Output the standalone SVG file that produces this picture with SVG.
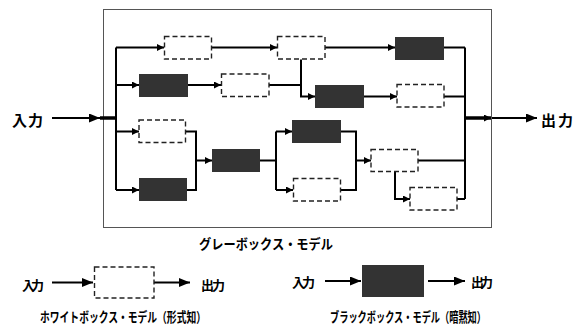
<svg xmlns="http://www.w3.org/2000/svg" width="581" height="326" viewBox="0 0 581 326">
<style>
text{font-family:"Noto Sans CJK JP","Noto Sans",sans-serif;font-weight:bold;fill:#000}
.w{fill:#fff;stroke:#222;stroke-width:1.4;stroke-dasharray:5,3}
.b{fill:#333;stroke:none}
.c path{fill:none;stroke:#000;stroke-width:2}
.c .t{stroke-width:3.5}
</style>
<defs>
<marker id="s" markerUnits="userSpaceOnUse" markerWidth="7" markerHeight="7" refX="7" refY="3.5" orient="auto"><path d="M0,0 L7,3.5 L0,7 z" fill="#000"/></marker>
<marker id="L" markerUnits="userSpaceOnUse" markerWidth="11" markerHeight="9" refX="11" refY="4.5" orient="auto"><path d="M0,0 L11,4.5 L0,9 z" fill="#000"/></marker>
</defs>
<rect id="gray" x="103.5" y="9.5" width="388" height="218" fill="#fff" stroke="#555" stroke-width="1"/>
<g class="c" id="connectors">
<path d="M52,118 H100" marker-end="url(#L)"/>
<path class="t" d="M100,118 H116"/>
<path d="M116,47.5 V190"/>
<path d="M116,47.5 H164" marker-end="url(#s)"/>
<path d="M211,47.5 H277" marker-end="url(#s)"/>
<path d="M325,47.5 H395" marker-end="url(#s)"/>
<path d="M444,47.5 H465"/>
<path d="M116,85 H139" marker-end="url(#s)"/>
<path d="M188,85 H221" marker-end="url(#s)"/>
<path d="M269,85 H301"/>
<path d="M301,59.5 V96.5 H315" marker-end="url(#s)"/>
<path d="M364,96.5 H397" marker-end="url(#s)"/>
<path d="M444,96.5 H465"/>
<path d="M116,131.5 H139" marker-end="url(#s)"/>
<path d="M116,190 H139" marker-end="url(#s)"/>
<path d="M185,131.5 H196 V190 H187"/>
<path d="M196,160.5 H212" marker-end="url(#s)"/>
<path d="M260,160.5 H276"/>
<path d="M276,131.5 V190"/>
<path d="M276,131.5 H292" marker-end="url(#s)"/>
<path d="M276,190 H293" marker-end="url(#s)"/>
<path d="M341,131.5 H356 V190 H341"/>
<path d="M356,160.5 H371" marker-end="url(#s)"/>
<path d="M418,160.5 H465"/>
<path d="M395,171 V199 H410" marker-end="url(#s)"/>
<path d="M457,199 H465"/>
<path d="M465,47.5 V199"/>
<path class="t" d="M465,118 H491" marker-end="url(#s)"/>
<path d="M492,118 H537" marker-end="url(#L)"/>
<path d="M52,282.5 H93" marker-end="url(#L)"/>
<path d="M154,282.5 H190" marker-end="url(#L)"/>
<path d="M325,281 H361" marker-end="url(#L)"/>
<path d="M428,281 H465" marker-end="url(#L)"/>
</g>
<g id="n1"><rect class="w" x="164.5" y="36.5" width="47" height="22.5"/></g>
<g id="n2"><rect class="w" x="277.5" y="36.5" width="47.5" height="22.5"/></g>
<g id="n3"><rect class="b" x="395" y="37" width="49" height="23"/></g>
<g id="n4"><rect class="b" x="139" y="74" width="49" height="23"/></g>
<g id="n5"><rect class="w" x="221.5" y="74" width="47.5" height="22.5"/></g>
<g id="n6"><rect class="b" x="315" y="85" width="49" height="23"/></g>
<g id="n7"><rect class="w" x="397" y="84.5" width="47" height="22.5"/></g>
<g id="n8"><rect class="w" x="139" y="120" width="46.5" height="22.5"/></g>
<g id="n9"><rect class="b" x="139" y="178" width="48" height="23"/></g>
<g id="n10"><rect class="b" x="212" y="149" width="48" height="23"/></g>
<g id="n11"><rect class="b" x="292" y="120" width="49" height="23"/></g>
<g id="n12"><rect class="w" x="293.5" y="178.5" width="47" height="22.5"/></g>
<g id="n13"><rect class="w" x="371" y="149.5" width="47" height="22"/></g>
<g id="n14"><rect class="w" x="410" y="187.5" width="47" height="22.5"/></g>
<g id="legend-white"><rect class="w" x="94.5" y="267" width="59.5" height="31"/></g>
<g id="legend-black"><rect class="b" x="362" y="265" width="62" height="32"/></g>
<text x="12" y="125.5" font-size="15" textLength="31">入力</text>
<text x="541" y="125.5" font-size="15" textLength="32">出力</text>
<text x="199" y="249" font-size="13.5" textLength="134" lengthAdjust="spacingAndGlyphs">グレーボックス・モデル</text>
<text x="22" y="289.5" font-size="13" textLength="22">入力</text>
<text x="201" y="289.5" font-size="13" textLength="24">出力</text>
<text x="292" y="286.5" font-size="13" textLength="23">入力</text>
<text x="471" y="286.5" font-size="13" textLength="22">出力</text>
<text x="40" y="321.5" font-size="13.5" textLength="166" lengthAdjust="spacingAndGlyphs">ホワイトボックス・モデル（形式知）</text>
<text x="330" y="321.5" font-size="13.5" textLength="156" lengthAdjust="spacingAndGlyphs">ブラックボックス・モデル（暗黙知）</text>
</svg>
